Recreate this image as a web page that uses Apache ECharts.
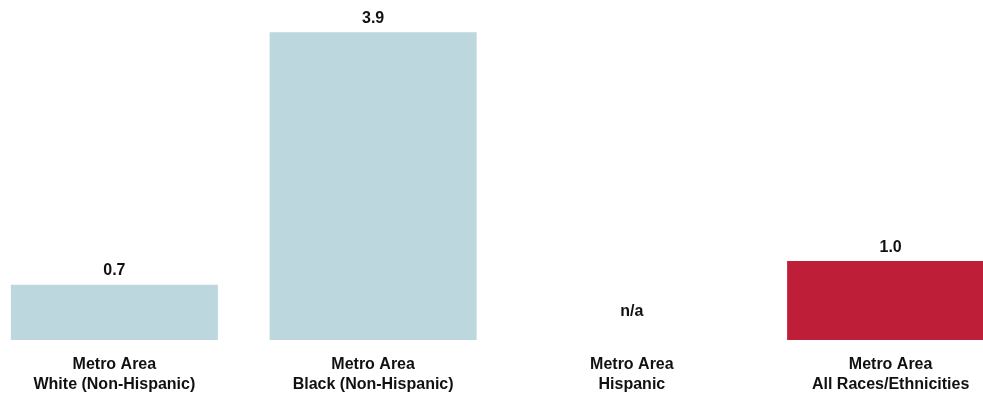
<!DOCTYPE html>
<html>
<head>
<meta charset="utf-8">
<script src="https://cdn.jsdelivr.net/npm/echarts@6/dist/echarts.min.js"></script>
<style>
html,body{margin:0;padding:0;background:#fff;overflow:hidden;width:983px;height:398px;}
#chart{position:absolute;left:-15px;top:0;width:1035px;height:398px;}
</style>
</head>
<body>
<div id="chart"></div>
<script>
const categories = ['Metro Area\nWhite (Non-Hispanic)', 'Metro Area\nBlack (Non-Hispanic)', 'Metro Area\nHispanic', 'Metro Area\nAll Races/Ethnicities'];
const values = [0.7, 3.9, 0, 1.0];
const valueLabels = ['0.7', '3.9', 'n/a', '1.0'];
const barColors = ['#bcd7dd', '#bcd7dd', '#bcd7dd', '#be1e37'];

const FONT = "'Liberation Sans', Arial, sans-serif";
const chart = echarts.init(document.getElementById('chart'));
chart.setOption({
  animation: false,
  grid: { left: 0, right: 0, top: 0, bottom: 58, containLabel: false },
  xAxis: {
    type: 'category',
    data: categories,
    axisLine: { show: false },
    axisTick: { show: false },
    axisLabel: {
      interval: 0,
      margin: 15,
      color: '#111',
      fontFamily: FONT,
      fontWeight: 'bold',
      fontSize: 16,
      lineHeight: 20
    }
  },
  yAxis: {
    type: 'value',
    min: 0,
    max: 4.31,
    show: false,
    splitLine: { show: false }
  },
  series: [{
    type: 'bar',
    barWidth: 207,
    data: values.map((v, i) => ({
      value: v,
      itemStyle: { color: barColors[i] },
      label: valueLabels[i] === 'n/a' ? { offset: [0, -14] } : {}
    })),
    label: {
      show: true,
      position: 'top',
      distance: 6,
      color: '#111',
      fontFamily: FONT,
      fontWeight: 'bold',
      fontSize: 16,
      formatter: p => valueLabels[p.dataIndex]
    }
  }]
});
</script>
</body>
</html>
